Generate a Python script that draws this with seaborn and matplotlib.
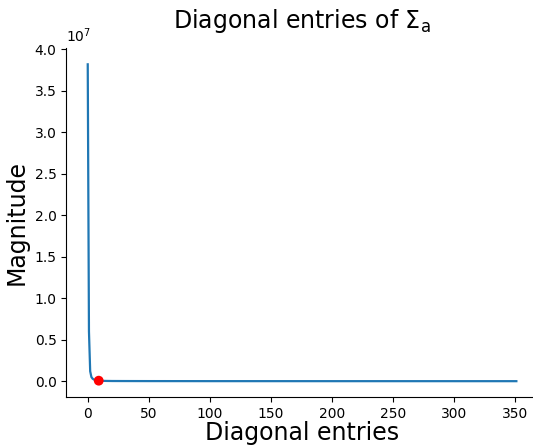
import numpy as np
import pandas as pd
import matplotlib
matplotlib.use("Agg")
import matplotlib.pyplot as plt
import seaborn as sns

# Diagonal entries (singular values), sparse points
entry_index = [0, 1, 2, 3, 4, 5, 6, 7, 8, 9, 10, 12, 15, 20, 30, 50, 100, 200, 300, 351]
entry_value = [3.82e7, 0.60e7, 0.12e7, 0.05e7, 0.03e7, 0.02e7, 0.015e7, 0.011e7,
               0.008e7, 0.006e7, 0.005e7, 0.004e7, 0.003e7, 0.002e7, 0.0015e7,
               0.001e7, 0.0005e7, 0.0002e7, 0.0001e7, 0.00005e7]
# highlighted entry
marked_index = [9]
marked_value = [0.006e7]

df = pd.DataFrame({"index": entry_index, "value": entry_value})

fig = plt.figure(figsize=(5.33, 4.48), dpi=100)
ax = fig.add_axes([0.1244, 0.1138, 0.8846, 0.778])
sns.lineplot(data=df, x="index", y="value", ax=ax, color="#1f77b4", linewidth=1.6)
sns.scatterplot(x=marked_index, y=marked_value, ax=ax, color="red", s=50,
                edgecolor="none", zorder=5)

ax.set_title(r"Diagonal entries of $\Sigma_\mathrm{a}$", fontsize=17, pad=15)
ax.set_xlabel("Diagonal entries", fontsize=17, labelpad=0)
ax.set_ylabel("Magnitude", fontsize=17)
ax.set_xticks([0, 50, 100, 150, 200, 250, 300, 350])
ax.set_yticks(np.arange(0, 4.01e7, 0.5e7))
sns.despine(ax=ax)

# scale label shown above the y axis
ax.yaxis.get_offset_text().set_visible(False)
ax.text(0.0, 1.01, r"$10^{7}$", transform=ax.transAxes, ha="left", va="bottom",
        fontsize=10)

fig.savefig("out.png", dpi=100)
